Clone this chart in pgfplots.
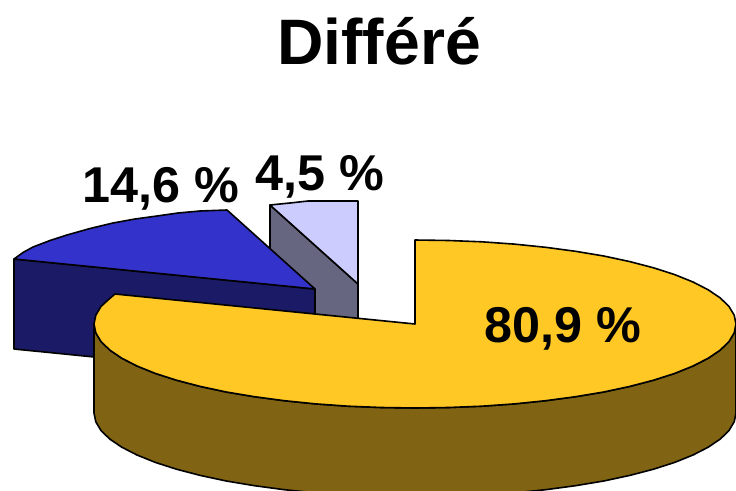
\documentclass[border=0pt]{standalone}
\usepackage{fontspec}
\setmainfont{Liberation Sans}
\usepackage{pgfplots}
\pgfplotsset{compat=1.18}

\definecolor{yellowtop}{HTML}{FFC825}
\definecolor{yellowside}{HTML}{806413}
\definecolor{bluetop}{HTML}{3333CC}
\definecolor{blueside}{HTML}{1A1A66}
\definecolor{paletop}{HTML}{CCCCFF}
\definecolor{paleside}{HTML}{666680}

\begin{document}
\begin{tikzpicture}
\begin{axis}[
    scale only axis,
    width=736bp, height=491bp,
    xmin=0, xmax=736,
    ymin=0, ymax=491,
    y dir=reverse,
    ticks=none,
    axis line style={draw=none},
    no markers,
    every axis plot/.append style={draw=black, line width=1.6bp, line join=round},
]
% 4,5 % slice
\addplot[fill=paleside] coordinates {(270,205) (358,284) (358,374) (270,295)} --cycle;
\addplot[fill=paletop] coordinates {(270,205) (290,203) (308,201) (358,201) (358,284)} --cycle;

% 14,6 % slice
\addplot[fill=blueside] coordinates {(14,259) (315,289) (315,379) (14,349)} --cycle;
\addplot[fill=bluetop] coordinates {
    (14,259) (23,252.5) (33,247) (50,240.5) (67,235) (90,228.5) (113,223)
    (135,219) (157,216) (178,213) (200,211) (227,210) (315,289)
} --cycle;

% 80,9 % slice, side
\addplot[fill=yellowside] coordinates {
    (736,324) (734.2,332.8) (729,341.5) (720.3,350) (708.2,358.2) (693,366)
    (674.7,373.4) (653.5,380.2) (629.8,386.4) (603.7,392) (575.5,396.7)
    (545.6,400.7) (514.2,403.9) (481.7,406.2) (448.6,407.5) (415,408)
    (381.4,407.5) (348.3,406.2) (315.8,403.9) (284.4,400.7) (254.5,396.7)
    (226.3,392) (200.2,386.4) (176.5,380.2) (155.3,373.4) (137,366)
    (121.8,358.2) (109.7,350) (101,341.5) (95.8,332.8) (94,324)
    (94,413) (95.8,421.8) (101,430.5) (109.7,439) (121.8,447.2) (137,455)
    (155.3,462.4) (176.5,469.2) (200.2,475.4) (226.3,481) (254.5,485.7)
    (284.4,489.7) (315.8,492.9) (348.3,495.2) (381.4,496.5) (415,497)
    (448.6,496.5) (481.7,495.2) (514.2,492.9) (545.6,489.7) (575.5,485.7)
    (603.7,481) (629.8,475.4) (653.5,469.2) (674.7,462.4) (693,455)
    (708.2,447.2) (720.3,439) (729,430.5) (734.2,421.8) (736,413)
} --cycle;

% 80,9 % slice, top
\addplot[fill=yellowtop] coordinates {
    (415,240) (448.6,240.5) (481.7,241.8) (514.2,244.1) (545.6,247.3)
    (575.5,251.3) (603.7,256) (629.8,261.6) (653.5,267.8) (674.7,274.6)
    (693,282) (708.2,289.8) (720.3,298) (729,306.5) (734.2,315.2) (736,324)
    (734.2,332.8) (729,341.5) (720.3,350) (708.2,358.2) (693,366)
    (674.7,373.4) (653.5,380.2) (629.8,386.4) (603.7,392) (575.5,396.7)
    (545.6,400.7) (514.2,403.9) (481.7,406.2) (448.6,407.5) (415,408)
    (381.4,407.5) (348.3,406.2) (315.8,403.9) (284.4,400.7) (254.5,396.7)
    (226.3,392) (200.2,386.4) (176.5,380.2) (155.3,373.4) (137,366)
    (121.8,358.2) (109.7,350) (101,341.5) (95.8,332.8) (94,324)
    (95.8,315.2) (101,306.5) (108,300) (115,294) (415,324)
} --cycle;

\node[anchor=base, inner sep=0pt, font=\fontsize{64.5}{64.5}\selectfont\bfseries] at (axis cs:379,65) {Différé};
\node[anchor=base, inner sep=0pt, font=\fontsize{50.5}{50.5}\selectfont\bfseries] at (axis cs:161,202) {14,6 \%};
\node[anchor=base, inner sep=0pt, font=\fontsize{50.5}{50.5}\selectfont\bfseries] at (axis cs:320,190) {4,5 \%};
\node[anchor=base, inner sep=0pt, font=\fontsize{50.5}{50.5}\selectfont\bfseries] at (axis cs:563,342) {80,9 \%};
\end{axis}
\end{tikzpicture}
\end{document}
